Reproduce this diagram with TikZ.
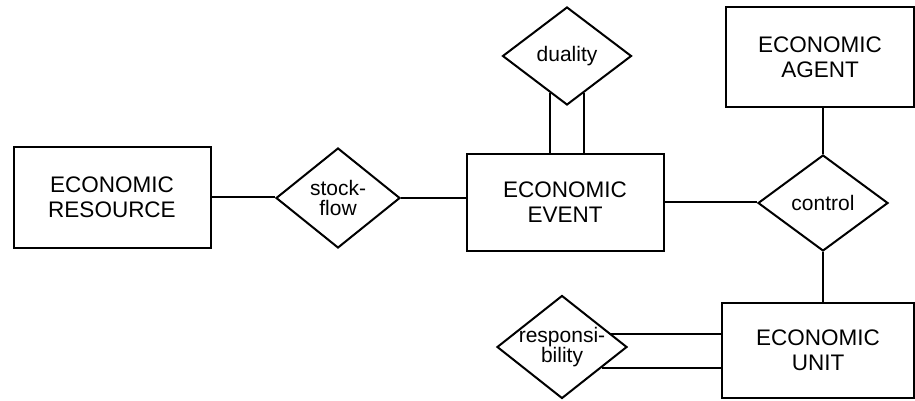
\documentclass[tikz,border=0pt]{standalone}
\usepackage{fontspec}
\setmainfont{Liberation Sans}
\usetikzlibrary{shapes, positioning}

\begin{document}
\begin{tikzpicture}[x=1pt, y=-1pt, line width=2pt,
        entity/.style={rectangle, draw, align=center, font=\fontsize{22.5}{25}\selectfont},
        relation/.style={diamond, draw, align=center, inner sep=-8pt, aspect=1.3, font=\fontsize{21}{20}\selectfont}]
        \useasboundingbox (0, 0) rectangle (915, 401);

        \node[entity, minimum width=197pt, minimum height=101pt] (res) at (112, 197) {ECONOMIC\\RESOURCE};
        \node[relation, minimum width=124pt, minimum height=100pt] (stock) at (338, 198) {stock-\\flow};
        \node[entity, minimum width=197pt, minimum height=97pt] (event) at (565, 202) {ECONOMIC\\EVENT};
        \node[relation, minimum width=129pt, minimum height=98pt] (duality) at (567, 56) {duality};
        \node[entity, minimum width=188pt, minimum height=100pt] (agent) at (820, 57) {ECONOMIC\\AGENT};
        \node[relation, minimum width=130pt, minimum height=96pt] (control) at (823, 203) {control};
        \node[entity, minimum width=192pt, minimum height=95pt] (unit) at (818, 350) {ECONOMIC\\UNIT};
        \node[relation, minimum width=130pt, minimum height=103pt] (resp) at (562, 347) {responsi-\\bility};

        \draw (res.east) -- (res.east -| stock.west)
            (stock.east) -- (stock.east -| event.west)
            (event.east) -- (event.east -| control.west)
            (control.north) -- (control.north |- agent.south)
            (control.south) -- (control.south |- unit.north)
            (duality.245) -- (duality.245 |- event.north)
            (duality.295) -- (duality.295 |- event.north)
            (resp.15) -- (resp.15 -| unit.west)
            (resp.-27) -- (resp.-27 -| unit.west);
    \end{tikzpicture}
\end{document}
